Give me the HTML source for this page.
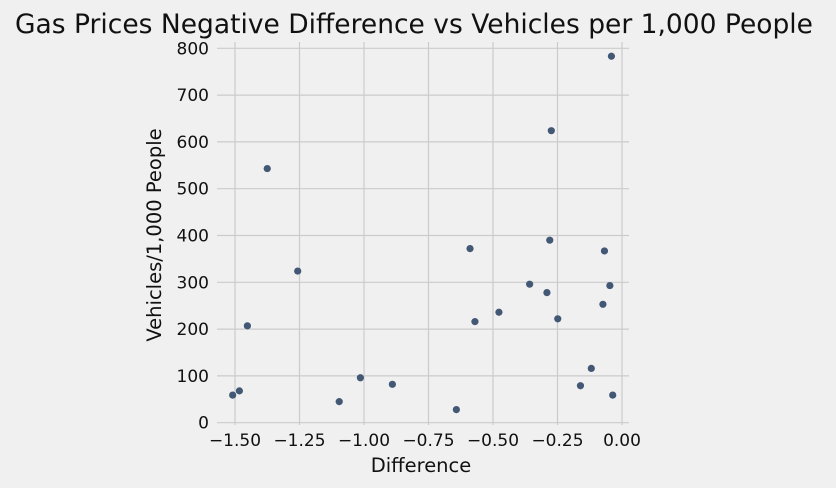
<!DOCTYPE html>
<html><head><meta charset="utf-8"><style>
html,body{margin:0;padding:0;background:#f0f0f0;}
svg{display:block;font-family:"DejaVu Sans","Liberation Sans",sans-serif;}
</style></head><body>
<svg id="chart" width="836" height="488" viewBox="0 0 836 488">
<rect x="0" y="0" width="836" height="488" fill="#f0f0f0"/>
<text x="414" y="33" text-anchor="middle" font-size="26.5" fill="#111">Gas Prices Negative Difference vs Vehicles per 1,000 People</text>
<g id="grid"></g><g id="ticks"></g><g id="points"></g>
<text x="421" y="472" text-anchor="middle" font-size="19.5" fill="#111">Difference</text>
<text transform="translate(161,235) rotate(-90)" text-anchor="middle" font-size="19.5" fill="#111">Vehicles/1,000 People</text>
</svg>
<script>
const xValues=[-0.041,-0.274,-1.375,-1.257,-1.452,-1.509,-1.483,-1.096,-1.014,-0.890,-0.642,-0.589,-0.570,-0.477,-0.358,-0.291,-0.280,-0.249,-0.161,-0.119,-0.068,-0.074,-0.047,-0.036];
const yValues=[783,624,543,324,207,59,68,45,96,82,28,372,216,236,296,278,390,222,79,116,367,253,293,59];
const xTicks=[-1.5,-1.25,-1.0,-0.75,-0.5,-0.25,0.0];
const xTickLabels=["\u22121.50","\u22121.25","\u22121.00","\u22120.75","\u22120.50","\u22120.25","0.00"];
const yTicks=[0,100,200,300,400,500,600,700,800];
const yTickLabels=["0","100","200","300","400","500","600","700","800"];
const NS="http://www.w3.org/2000/svg";
const X0=217,X1=629,Y0=42,Y1=425;
function sx(v){return 622+v*258;}
function sy(v){return 422.7-v*0.468;}
const grid=document.getElementById('grid'),ticks=document.getElementById('ticks'),pts=document.getElementById('points');
function mk(tag,attrs,parent){const e=document.createElementNS(NS,tag);for(const k in attrs)e.setAttribute(k,attrs[k]);parent.appendChild(e);return e;}
xTicks.forEach((t,i)=>{
 const l=mk('line',{x1:sx(t),x2:sx(t),y1:Y0,y2:Y1,stroke:'#cbcbcb','stroke-width':1.2},grid);
 
 
 const tx=mk('text',{x:sx(t),y:446,'text-anchor':'middle','font-size':17,fill:'#111'},ticks);
 tx.textContent=xTickLabels[i];
 
 
});
yTicks.forEach((t,i)=>{
 const l=mk('line',{x1:X0,x2:X1,y1:sy(t),y2:sy(t),stroke:'#cbcbcb','stroke-width':1.2},grid);
 
 
 const tx=mk('text',{x:209,y:sy(t)+6,'text-anchor':'end','font-size':17,fill:'#111'},ticks);
 tx.textContent=yTickLabels[i];
 
 
});
xValues.forEach((v,i)=>{
 const c=mk('circle',{cx:sx(v),cy:sy(yValues[i]),r:3.6,fill:'#435875'},pts);
 
 
});
</script>
</body></html>
